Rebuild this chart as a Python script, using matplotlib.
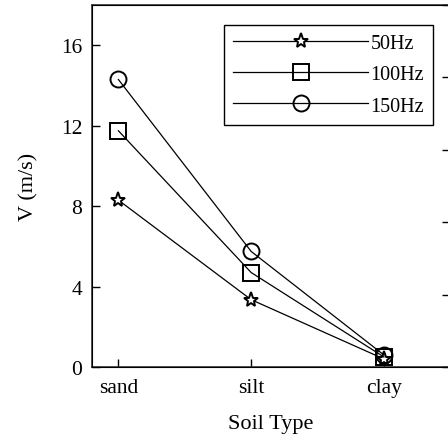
import numpy as np
import matplotlib
matplotlib.use('Agg')
import matplotlib.pyplot as plt

matplotlib.rc('font', family='Liberation Serif', size=16)

soil = ['sand', 'silt', 'clay']
v_50 = [8.3, 3.35, 0.4]
v_100 = [11.75, 4.7, 0.5]
v_150 = [14.3, 5.75, 0.6]
y_ticks = [0, 4, 8, 12, 16]


def velocityPlot():
    fig = plt.figure(figsize=(4.48, 4.35), dpi=100)
    ax = fig.add_axes([0.205, 0.154, 0.80, 0.832])
    x = np.arange(len(soil))

    ax.plot(x, v_50, color='k', lw=0.9, marker='*', ms=11, mfc='white',
            mec='k', mew=1.4, label='50Hz')
    ax.plot(x, v_100, color='k', lw=0.9, marker='s', ms=11, mfc='none',
            mec='k', mew=1.4, label='100Hz')
    ax.plot(x, v_150, color='k', lw=0.9, marker='o', ms=11.5, mfc='none',
            mec='k', mew=1.4, label='150Hz')

    ax.set_xlim(-0.2, 2.5)
    ax.set_ylim(0, 18)
    ax.set_xticks(x)
    ax.set_xticklabels(soil)
    ax.set_yticks(y_ticks)
    ax.tick_params(direction='in', length=6, width=1, pad=7, labelsize=15.5)
    ax.tick_params(axis='x', pad=8)
    ax.set_xlabel('Soil Type', labelpad=12)
    ax.set_ylabel('V (m/s)', labelpad=16)
    for s in ax.spines.values():
        s.set_linewidth(1.2)
        s.set_color('#333333')

    ax2 = ax.twinx()
    ax2.set_ylim(0, 5)
    ax2.set_yticks(np.arange(0, 6))
    ax2.tick_params(direction='in', length=6, width=1, labelright=False)

    leg = ax.legend(loc='upper right', bbox_to_anchor=(0.952, 0.945),
                    fancybox=False, edgecolor='k', framealpha=1,
                    handlelength=6.7, handletextpad=0.1, borderpad=0.45,
                    labelspacing=0.6, fontsize=14.5, borderaxespad=0)
    leg.get_frame().set_linewidth(1.0)

    fig.savefig('out.png', dpi=100)


if __name__ == '__main__':
    velocityPlot()
